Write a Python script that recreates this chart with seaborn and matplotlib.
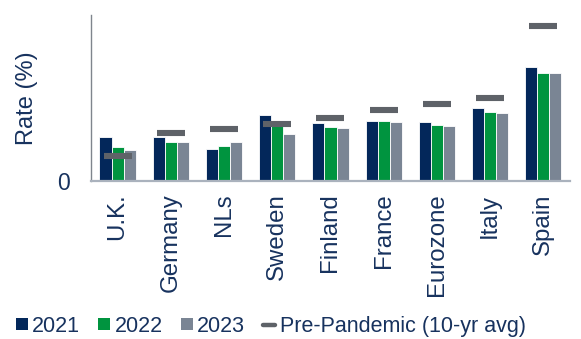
import matplotlib
matplotlib.use("Agg")
import matplotlib.pyplot as plt
from matplotlib.patches import Patch
from matplotlib.lines import Line2D
import seaborn as sns
import pandas as pd

# Unemployment rates by country (%)
countries = ["U.K.", "Germany", "NLs", "Sweden", "Finland", "France", "Eurozone", "Italy", "Spain"]
years = ["2021", "2022", "2023"]
rate_2021 = [5.8, 5.8, 4.2, 8.8, 7.7, 8.0, 7.8, 9.7, 15.2]
rate_2022 = [4.5, 5.2, 4.6, 7.5, 7.2, 8.0, 7.4, 9.2, 14.4]
rate_2023 = [4.1, 5.2, 5.2, 6.3, 7.0, 7.9, 7.3, 9.1, 14.4]
pre_pandemic = [3.3, 6.4, 6.9, 7.6, 8.4, 9.4, 10.3, 11.0, 20.7]
pre_label = "Pre-Pandemic (10-yr avg)"

bar_colors = ["#03275a", "#00943f", "#7a8594"]
avg_color = "#5e6268"
text_color = "#17325e"

sns.set_style("white")
plt.rcParams["font.family"] = ["Liberation Sans", "DejaVu Sans"]

long = pd.DataFrame({
    "country": countries * 3,
    "year": [y for y in years for _ in countries],
    "rate": rate_2021 + rate_2022 + rate_2023,
})
avg = pd.DataFrame({"country": countries, "rate": pre_pandemic})

fig = plt.figure(figsize=(5.81, 3.39), dpi=100)
ax = fig.add_axes([0.1566, 0.466, 0.8244, 0.4897])

sns.barplot(data=long, x="country", y="rate", hue="year", order=countries,
            hue_order=years, palette=bar_colors, width=0.68, saturation=1,
            edgecolor="white", linewidth=0.6, legend=False, ax=ax)

sns.scatterplot(data=avg, x="country", y="rate", marker="_", s=430,
                color=avg_color, linewidth=4.4, zorder=5, legend=False, ax=ax)

ax.set_xlim(-0.5, 8.5)
ax.set_ylim(0, 22.1)
ax.set_yticks([0])
ax.set_yticklabels(["0"])
ax.set_xlabel("")
ax.set_ylabel("Rate (%)", fontsize=17, color=text_color, labelpad=14)

ax.tick_params(axis="x", length=0, pad=9, labelsize=17.3, labelcolor=text_color,
               labelrotation=90)
ax.tick_params(axis="y", length=0, pad=15, labelsize=16.5, labelcolor=text_color)

for side in ["top", "right"]:
    ax.spines[side].set_visible(False)
ax.spines["left"].set_color("#7f858d")
ax.spines["left"].set_linewidth(1.0)
ax.spines["bottom"].set_color("#aab2bd")
ax.spines["bottom"].set_linewidth(1.6)

handles = [Patch(facecolor=c, edgecolor="none") for c in bar_colors]
handles.append(Line2D([0], [0], color=avg_color, lw=3.2))
fig.legend(handles, years + [pre_label], loc="center", bbox_to_anchor=(0.466, 0.038),
           ncol=4, frameon=False, fontsize=15.5, labelcolor=text_color,
           handlelength=0.55, handleheight=0.55, handletextpad=0.2,
           columnspacing=0.85, borderpad=0)

fig.savefig("out.png", dpi=100)
